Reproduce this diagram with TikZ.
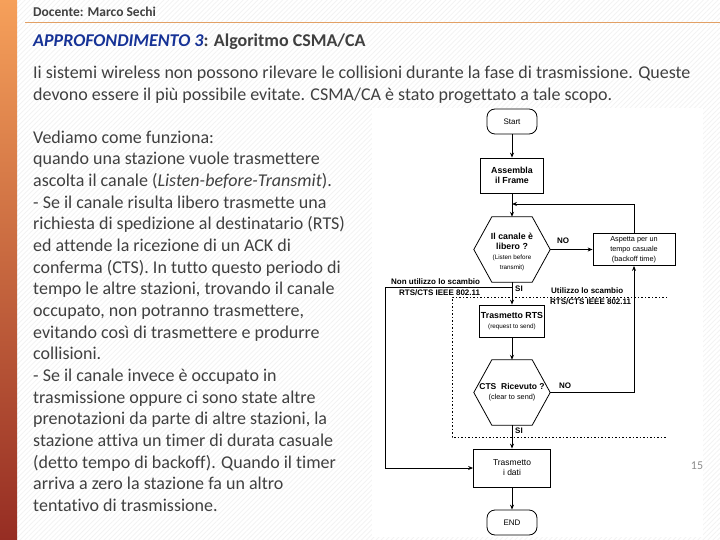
\documentclass[tikz,border=0pt]{standalone}
\usepackage{fontspec}
\setmainfont{Carlito}[Ligatures=NoCommon]
\newfontfamily\fcfont{Liberation Sans}
\usetikzlibrary{arrows.meta,patterns.meta}
\definecolor{txt}{RGB}{64,64,64}
\definecolor{ttl}{RGB}{22,50,150}
\definecolor{hline}{RGB}{226,160,100}
\definecolor{barA}{RGB}{246,160,90}
\definecolor{barB}{RGB}{228,108,20}
\definecolor{barC}{RGB}{150,45,35}
\newcommand{\fcb}[1]{{\bfseries\fontsize{8.8}{10}\selectfont #1}}
\newcommand{\fcs}[1]{{\fontsize{6.3}{10}\selectfont #1}}
\begin{document}
\begin{tikzpicture}[x=1pt,y=-1pt,
  body/.style={anchor=base west, inner sep=0, text=txt, font=\fontsize{18}{21}\selectfont},
  fc/.style={font=\fcfont\fontsize{7.3}{10}\selectfont, align=center, inner sep=0},
  box/.style={draw, line width=0.8pt, fc},
  term/.style={draw, rounded corners=8pt, minimum width=50pt, minimum height=25pt, fc, font=\fcfont\fontsize{8}{10}\selectfont, line width=0.8pt},
  dec/.style={minimum width=76pt, minimum height=65pt, fc},
  lbl/.style={fc, font=\fcfont\bfseries\fontsize{8}{9}\selectfont},
  arr/.style={-{Stealth[length=5pt,width=4pt]}, line width=0.9pt},
  ln/.style={line width=0.9pt},
  dots/.style={line width=0.8pt, dash pattern=on 1.5pt off 2pt}
]
\useasboundingbox (0,0) rectangle (720,540);
\fill[white] (0,0) rectangle (720,540);
\fill[pattern={Lines[angle=45,distance=3.5pt,line width=0.7pt]}, pattern color=black!5] (0,0) rectangle (720,540);
\shade[top color=barA, middle color=barB, bottom color=barC] (0,0) rectangle (17,540);
\draw[hline, line width=1pt] (25,23) -- (720,23);

\node[anchor=base west, inner sep=0, text=txt, font=\bfseries\fontsize{13.5}{15}\selectfont] (hdr) at (33,17) {Docente: Marco Sechi};
\node[anchor=base west, inner sep=0, text=txt, font=\bfseries\fontsize{18}{20}\selectfont] (ttlnode) at (33,47) {\textcolor{ttl}{\itshape APPROFONDIMENTO 3}: Algoritmo CSMA/CA};

\node[body] (p1) at (33,79) {Ii sistemi wireless non possono rilevare le collisioni durante la fase di trasmissione. Queste};
\node[body] (p2) at (33,100.5) {devono essere il più possibile evitate. CSMA/CA è stato progettato a tale scopo.};

\node[body] (l1) at (33,143.3) {Vediamo come funziona:};
\node[body] (l2) at (33,164.95) {quando una stazione vuole trasmettere};
\node[body] (l3) at (33,186.6) {ascolta il canale (\textit{Listen-before-Transmit}).};
\node[body] (l4) at (33,208.25) {- Se il canale risulta libero trasmette una};
\node[body] (l5) at (33,229.9) {richiesta di spedizione al destinatario (RTS)};
\node[body] (l6) at (33,251.55) {ed attende la ricezione di un ACK di};
\node[body] (l7) at (33,273.2) {conferma (CTS). In tutto questo periodo di};
\node[body] (l8) at (33,294.85) {tempo le altre stazioni, trovando il canale};
\node[body] (l9) at (33,316.5) {occupato, non potranno trasmettere,};
\node[body] (l10) at (33,338.15) {evitando così di trasmettere e produrre};
\node[body] (l11) at (33,359.8) {collisioni.};
\node[body] (l12) at (33,381.45) {- Se il canale invece è occupato in};
\node[body] (l13) at (33,403.1) {trasmissione oppure ci sono state altre};
\node[body] (l14) at (33,424.75) {prenotazioni da parte di altre stazioni, la};
\node[body] (l15) at (33,446.4) {stazione attiva un timer di durata casuale};
\node[body] (l16) at (33,468.05) {(detto tempo di backoff). Quando il timer};
\node[body] (l17) at (33,489.7) {arriva a zero la stazione fa un altro};
\node[body] (l18) at (33,511.35) {tentativo di trasmissione.};

% flowchart panel
\fill[white] (372,108) rectangle (703,537);

\node[term] (start) at (512,121.5) {Start};
\node[box, minimum width=63pt, minimum height=35pt] (asm) at (512,175.5) {\fcb{Assembla}\\\fcb{il Frame}};
\node[dec] (d1) at (512,249.5) {};
\node[fc] (d1t) at (512,252) {\fcb{Il canale è}\\\fcb{libero ?}\\\fcs{(Listen before}\\\fcs{transmit)}};
\draw[line width=0.8pt] ([xshift=18pt]d1.north west) -- ([xshift=-18pt]d1.north east) -- (d1.east) -- ([xshift=-18pt]d1.south east) -- ([xshift=18pt]d1.south west) -- (d1.west) -- cycle;
\node[box, minimum width=82pt, minimum height=32pt] (asp) at (634,249.5) {Aspetta per un\\tempo casuale\\(backoff time)};
\node[box, minimum width=65pt, minimum height=32pt] (rts) at (512,321) {\fcb{Trasmetto RTS}\\\fcs{(request to send)}};
\node[dec] (d2) at (512,392.5) {{\bfseries\fontsize{8.5}{10}\selectfont CTS\ \ Ricevuto ?}\\(clear to send)};
\draw[line width=0.8pt] ([xshift=18pt]d2.north west) -- ([xshift=-18pt]d2.north east) -- (d2.east) -- ([xshift=-18pt]d2.south east) -- ([xshift=18pt]d2.south west) -- (d2.west) -- cycle;
\node[box, minimum width=77pt, minimum height=38pt, font=\fcfont\fontsize{8.5}{10}\selectfont] (dati) at (512,468) {Trasmetto\\i dati};
\node[term] (end) at (512,522.5) {END};

\coordinate (j1) at (512,204);
\coordinate (j2) at (512,287);
\coordinate (c1) at (385,287);
\coordinate (q1) at (667,297);
\coordinate (q2) at (452,297);
\coordinate (q3) at (452,437);
\coordinate (q4) at (667,437);

\draw[arr] (start) -- (asm);
\draw[arr] (asm) -- (d1.north);
\draw[arr] (d1.east) -- (asp.west);
\draw[arr] (asp.north) |- (j1);
\draw[arr] (d1.south) -- (rts.north);
\draw[ln] (j2) -- (c1);
\draw[arr] (c1) |- (dati.west);
\draw[arr] (rts) -- (d2.north);
\draw[arr] (d2.east) -| (asp.south);
\draw[arr] (d2.south) -- (dati.north);
\draw[arr] (dati) -- (end);
\draw[dots] (q1) -- (q2) -- (q3) -- (q4);

\node[lbl] (no1) at (563,241) {NO};
\node[lbl] (si1) at (519,289) {SI};
\node[lbl] (no2) at (565,386) {NO};
\node[lbl] (si2) at (519,431) {SI};
\node[lbl, anchor=west] (nu1) at (391,282) {Non utilizzo lo scambio};
\node[lbl, anchor=west] (nu2) at (399,292.5) {RTS/CTS IEEE 802.11};
\node[lbl, anchor=west] (u1) at (551,291) {Utilizzo lo scambio};
\node[lbl, anchor=west] (u2) at (550,302) {RTS/CTS IEEE 802.11};

\node[text=black!45, font=\fontsize{12}{14}\selectfont] (pg) at (697,466) {15};
\end{tikzpicture}
\end{document}
